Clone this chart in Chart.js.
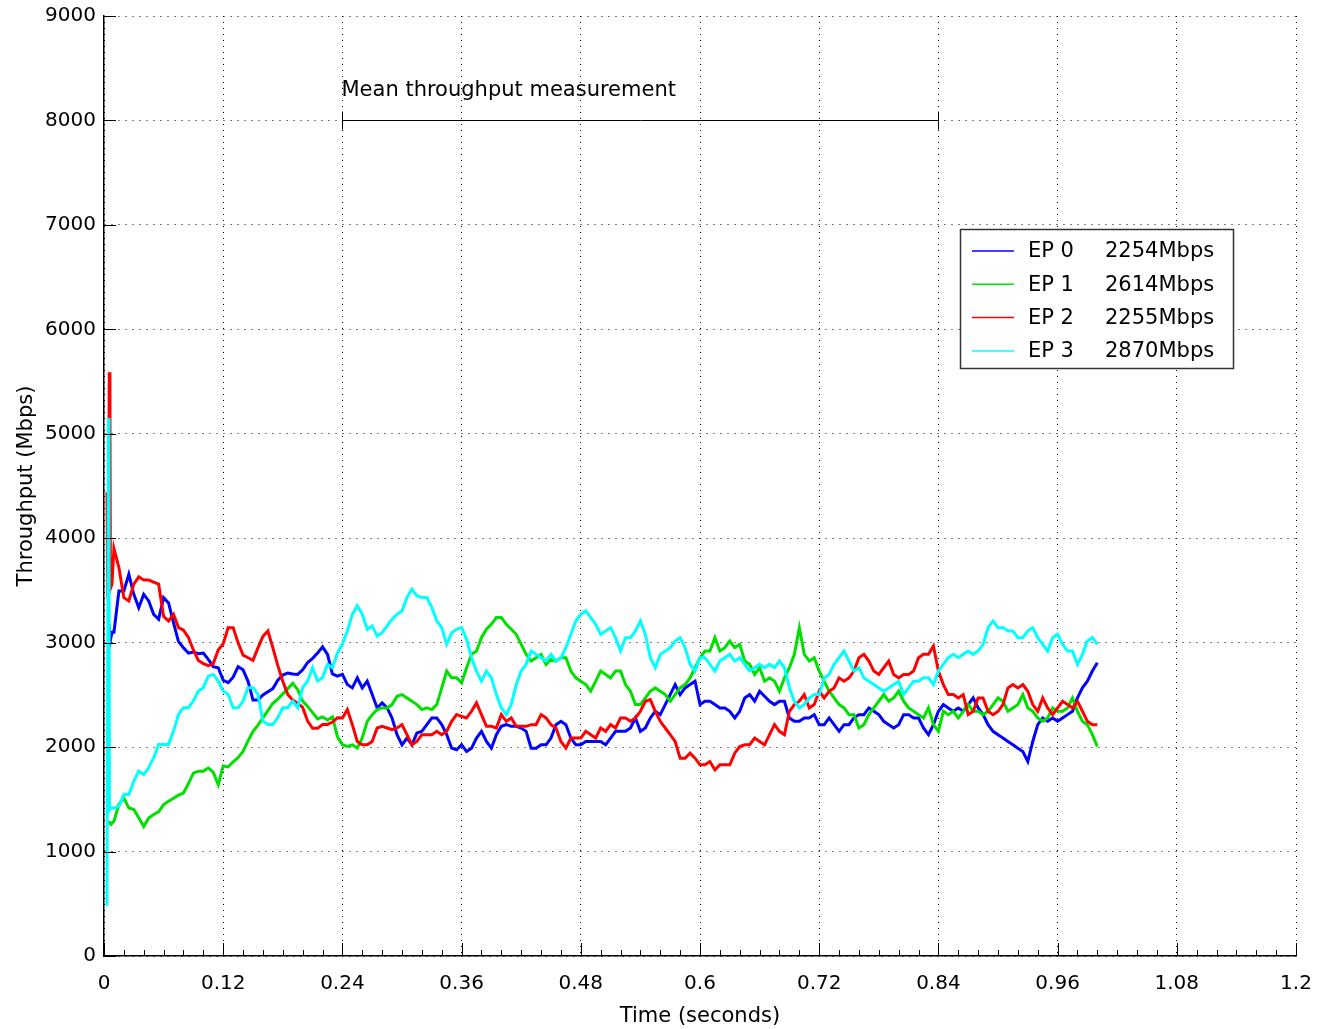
<!DOCTYPE html>
<html>
<head>
<meta charset="utf-8">
<script src="https://cdn.jsdelivr.net/npm/chart.js@4.4.0/dist/chart.umd.min.js"></script>
<style>
  html, body { margin: 0; padding: 0; background: #fff; }
</style>
</head>
<body>
<canvas id="chart" width="1317" height="1029"></canvas>
<script>
const FONT = '"DejaVu Sans", sans-serif';

const seriesNames = ['EP 0', 'EP 1', 'EP 2', 'EP 3'];
const meanMbps = [2254, 2614, 2255, 2870];
const seriesColors = ['#0000ff', '#00e000', '#ff0000', '#00ffff'];

const xTicks = [0, 0.12, 0.24, 0.36, 0.48, 0.6, 0.72, 0.84, 0.96, 1.08, 1.2];
const yTicks = [0, 1000, 2000, 3000, 4000, 5000, 6000, 7000, 8000, 9000];

// measurement window shown at the top
const windowStart = 0.24;
const windowEnd = 0.84;
const windowLevel = 8000;

// samples every 5 ms starting at 10 ms
const T0 = 0.01;
const DT = 0.005;

// start-up transient (first few ms)
const ep0StartT = [0.005, 0.006, 0.008];
const ep0StartV = [3180, 3000, 3100];
const ep1StartT = [0.005, 0.007];
const ep1StartV = [1290, 1260];
const ep2StartT = [0.003, 0.0037, 0.0045, 0.0053, 0.006, 0.0065, 0.008];
const ep2StartV = [4440, 3520, 3550, 5590, 5170, 3520, 3560];
const ep3StartT = [0.003, 0.0045, 0.005, 0.0055, 0.007];
const ep3StartV = [480, 5150, 4300, 1400, 1420];

const ep0 = [
  3100, 3495, 3495, 3655, 3463, 3335, 3463, 3400, 3271, 3224,
  3431, 3380, 3190, 3010, 2952, 2900, 2910, 2895, 2900, 2840,
  2770, 2760, 2640, 2617, 2670, 2770, 2740, 2630, 2450, 2450,
  2500, 2530, 2560, 2640, 2690, 2710, 2700, 2696, 2740, 2810,
  2850, 2900, 2960, 2888, 2700, 2680,
  2696, 2599, 2567, 2663, 2567, 2631, 2503, 2375, 2423, 2375,
  2279, 2119, 2022, 2087, 2022, 2135, 2151, 2215, 2279, 2279,
  2215, 2119, 1990, 1974, 2022, 1958, 1990, 2087, 2151, 2054,
  1990, 2119, 2199, 2215, 2199, 2199, 2183, 2151, 1990,
  1990, 2022, 2022, 2087, 2215, 2247, 2215, 2087, 2022, 2022,
  2054, 2054, 2054, 2054, 2022, 2087, 2151, 2151, 2151, 2183,
  2279, 2151, 2183, 2279, 2343, 2311, 2407, 2503, 2599, 2503,
  2567, 2599, 2631, 2407, 2439, 2439, 2407, 2375, 2375,
  2343, 2279, 2343, 2471, 2503, 2439, 2535, 2487, 2439, 2407,
  2439, 2439, 2279, 2247, 2247, 2279, 2279, 2311, 2215, 2215,
  2279, 2215, 2151, 2215, 2215, 2279, 2311, 2311, 2375, 2343,
  2311, 2247, 2215, 2183, 2215, 2311, 2311, 2279, 2279,
  2183, 2119, 2215, 2343, 2407, 2375, 2343, 2375, 2343, 2407,
  2471, 2375, 2311, 2215, 2151, 2119, 2087, 2054, 2022, 1990,
  1958, 1862, 2054, 2215, 2279, 2247, 2279, 2247, 2279, 2311,
  2343, 2471, 2567, 2631, 2728, 2808
];

const ep1 = [
  1291, 1450, 1514, 1418, 1403, 1323, 1240, 1320, 1355, 1380,
  1450, 1482, 1510, 1540, 1560, 1650, 1750, 1770, 1770, 1800,
  1760, 1640, 1820, 1810, 1860, 1898, 1960, 2060, 2150, 2210,
  2280, 2350, 2420, 2460, 2510, 2560, 2610, 2550, 2440, 2390,
  2330, 2270, 2290, 2260, 2290, 2100,
  2022, 2006, 2022, 1990, 2087, 2247, 2311, 2359, 2375, 2375,
  2407, 2487, 2503, 2471, 2439, 2407, 2359, 2375, 2359, 2407,
  2567, 2728, 2663, 2663, 2615, 2760, 2888, 2920, 3048, 3128,
  3176, 3240, 3240, 3176, 3128, 3080, 2984, 2888, 2824,
  2856, 2888, 2792, 2840, 2824, 2856, 2856, 2728, 2663, 2631,
  2599, 2535, 2631, 2728, 2696, 2663, 2728, 2728, 2599, 2535,
  2407, 2407, 2471, 2535, 2567, 2535, 2503, 2439, 2503, 2567,
  2599, 2663, 2760, 2856, 2920, 2920, 3048, 2920, 2952,
  3016, 2952, 2984, 2824, 2792, 2696, 2760, 2631, 2663, 2631,
  2535, 2663, 2760, 2888, 3144, 2888, 2824, 2856, 2728, 2631,
  2535, 2471, 2407, 2375, 2311, 2311, 2183, 2215, 2311, 2375,
  2439, 2503, 2439, 2471, 2535, 2439, 2375, 2343, 2311,
  2279, 2375, 2215, 2151, 2343, 2311, 2343, 2279, 2343, 2407,
  2343, 2343, 2311, 2343, 2407, 2471, 2439, 2343, 2375, 2407,
  2503, 2375, 2343, 2279, 2247, 2279, 2375, 2343, 2343, 2375,
  2471, 2343, 2247, 2215, 2119, 2006
];

const ep2 = [
  3900, 3719, 3431, 3400, 3560, 3630, 3600, 3600, 3580, 3560,
  3250, 3208, 3271, 3144, 3120, 3050, 2930, 2830, 2800, 2780,
  2800, 2930, 2990, 3144, 3144, 3000, 2880, 2856, 2830, 2950,
  3060, 3112, 2950, 2780, 2630, 2505, 2450, 2420, 2380, 2249,
  2180, 2180, 2217, 2217, 2240, 2280,
  2279, 2359, 2215, 2054, 2022, 2022, 2054, 2183, 2199, 2183,
  2167, 2183, 2215, 2119, 2022, 2054, 2119, 2119, 2119, 2151,
  2119, 2151, 2247, 2311, 2295, 2279, 2343, 2423, 2311, 2199,
  2199, 2183, 2311, 2247, 2279, 2199, 2199, 2199, 2215,
  2215, 2311, 2279, 2215, 2183, 2054, 1990, 2087, 2087, 2087,
  2151, 2119, 2087, 2183, 2151, 2215, 2183, 2279, 2279, 2247,
  2279, 2343, 2439, 2455, 2343, 2247, 2183, 2119, 2054, 1894,
  1894, 1942, 1894, 1830, 1830, 1862, 1782, 1830, 1830,
  1830, 1942, 2006, 2022, 2022, 2087, 2054, 2022, 2119, 2215,
  2151, 2119, 2343, 2407, 2439, 2503, 2375, 2407, 2535, 2471,
  2535, 2567, 2663, 2631, 2663, 2728, 2856, 2888, 2824, 2728,
  2696, 2760, 2824, 2696, 2663, 2696, 2696, 2728, 2856,
  2888, 2888, 2968, 2728, 2599, 2503, 2503, 2471, 2503, 2311,
  2343, 2471, 2471, 2343, 2311, 2343, 2407, 2567, 2599, 2567,
  2599, 2535, 2407, 2343, 2471, 2375, 2311, 2375, 2439, 2407,
  2375, 2439, 2343, 2247, 2215, 2215
];

const ep3 = [
  1418, 1434, 1546, 1546, 1674, 1770, 1738, 1802, 1898, 2026,
  2026, 2026, 2153, 2313, 2377, 2377, 2441, 2537, 2569, 2680,
  2696, 2633, 2537, 2505, 2377, 2377, 2441, 2569, 2569, 2505,
  2249, 2217, 2217, 2281, 2377, 2377, 2441, 2377, 2569, 2633,
  2760, 2633, 2665, 2792, 2760, 2900,
  2984, 3112, 3272, 3353, 3272, 3128, 3160, 3064, 3096, 3160,
  3224, 3272, 3304, 3433, 3513, 3449, 3433, 3433, 3337, 3208,
  3144, 2984, 3096, 3128, 3144, 3032, 2856, 2728, 2631, 2728,
  2663, 2503, 2375, 2311, 2407, 2599, 2728, 2792, 2920,
  2888, 2856, 2824, 2888, 2824, 2856, 2952, 3080, 3208, 3272,
  3304, 3240, 3176, 3080, 3112, 3144, 3048, 2920, 3048, 3048,
  3112, 3208, 3080, 2856, 2760, 2888, 2920, 2952, 3016, 3048,
  2952, 2792, 2728, 2856, 2856, 2792, 2728, 2824, 2856,
  2888, 2824, 2856, 2792, 2728, 2760, 2792, 2760, 2792, 2760,
  2824, 2760, 2567, 2439, 2375, 2407, 2471, 2503, 2503, 2663,
  2696, 2792, 2856, 2920, 2824, 2728, 2760, 2663, 2631, 2599,
  2567, 2535, 2567, 2599, 2631, 2503, 2567, 2631, 2631,
  2663, 2663, 2599, 2728, 2792, 2856, 2888, 2856, 2888, 2920,
  2888, 2920, 2984, 3144, 3208, 3144, 3144, 3112, 3112, 3048,
  3048, 3112, 3144, 3048, 2984, 2920, 3048, 3080, 2984, 2920,
  2920, 2792, 2888, 3016, 3048, 2984
];

function toPoints(startT, startV, vals) {
  const pts = startT.map((t, i) => ({ x: t, y: startV[i] }));
  vals.forEach((v, i) => pts.push({ x: +(T0 + DT * i).toFixed(4), y: v }));
  return pts;
}

const allSeries = [
  toPoints(ep0StartT, ep0StartV, ep0),
  toPoints(ep1StartT, ep1StartV, ep1),
  toPoints(ep2StartT, ep2StartV, ep2),
  toPoints(ep3StartT, ep3StartV, ep3)
];

// inward ticks, measurement bar and the boxed legend
const overlay = {
  id: 'overlay',
  afterDraw(chart) {
    const { ctx, scales: { x, y } } = chart;
    ctx.save();
    ctx.strokeStyle = '#000';
    ctx.lineWidth = 1;
    ctx.beginPath();
    for (let i = 0; i <= 60; i++) {
      const px = Math.round(x.getPixelForValue(i * 0.02)) + 0.5;
      const len = i % 6 === 0 ? 13 : 6;
      ctx.moveTo(px, y.bottom);
      ctx.lineTo(px, y.bottom - len);
    }
    yTicks.forEach(v => {
      const py = Math.round(y.getPixelForValue(v)) + 0.5;
      ctx.moveTo(x.left, py);
      ctx.lineTo(x.left + 12, py);
    });
    ctx.stroke();

    // measurement window
    const x1 = Math.round(x.getPixelForValue(windowStart)) + 0.5;
    const x2 = Math.round(x.getPixelForValue(windowEnd)) + 0.5;
    const wy = Math.round(y.getPixelForValue(windowLevel)) + 0.5;
    ctx.beginPath();
    ctx.moveTo(x1, wy); ctx.lineTo(x2, wy);
    ctx.moveTo(x1, wy - 9); ctx.lineTo(x1, wy + 9);
    ctx.moveTo(x2, wy - 9); ctx.lineTo(x2, wy + 9);
    ctx.stroke();
    ctx.fillStyle = '#000';
    ctx.font = '21px ' + FONT;
    ctx.textAlign = 'left';
    ctx.textBaseline = 'alphabetic';
    ctx.fillText('Mean throughput measurement', x1 - 1, wy - 25);

    // legend box
    const bx = 960.5, by = 229.5, bw = 273, bh = 139;
    ctx.fillStyle = '#fff';
    ctx.fillRect(bx, by, bw, bh);
    ctx.strokeStyle = '#333';
    ctx.lineWidth = 1.5;
    ctx.strokeRect(bx, by, bw, bh);
    ctx.textBaseline = 'middle';
    seriesNames.forEach((name, i) => {
      const ry = 251 + i * 33.3;
      ctx.strokeStyle = seriesColors[i];
      ctx.lineWidth = 1.5;
      ctx.beginPath();
      ctx.moveTo(972, ry);
      ctx.lineTo(1014, ry);
      ctx.stroke();
      ctx.fillStyle = '#000';
      ctx.fillText(name, 1028, ry + 1);
      ctx.fillText(meanMbps[i] + 'Mbps', 1105, ry + 1);
    });
    ctx.restore();
  }
};

new Chart(document.getElementById('chart').getContext('2d'), {
  type: 'line',
  data: {
    datasets: allSeries.map((pts, i) => ({
      label: seriesNames[i],
      data: pts,
      borderColor: seriesColors[i],
      borderWidth: 3,
      pointRadius: 0,
      tension: 0,
      fill: false,
      order: 3 - i
    }))
  },
  options: {
    responsive: false,
    animation: false,
    events: [],
    layout: { padding: { top: 16, right: 21, bottom: 0, left: 0 } },
    scales: {
      x: {
        type: 'linear',
        min: 0,
        max: 1.2,
        afterBuildTicks: s => { s.ticks = xTicks.map(v => ({ value: v })); },
        afterFit: s => {
          s.height = 73;
          s.paddingLeft = 0;
          s.paddingRight = 0;
        },
        grid: { color: '#000', lineWidth: 1, drawTicks: false },
        border: { display: true, color: '#000', width: 1.5, dash: [1, 5] },
        ticks: {
          color: '#000',
          font: { family: FONT, size: 20 },
          padding: 16,
          maxRotation: 0,
          autoSkip: false,
          callback: v => String(parseFloat(v.toFixed(2)))
        },
        title: {
          display: true,
          text: 'Time (seconds)',
          color: '#000',
          font: { family: FONT, size: 21 },
          padding: { top: 0, bottom: 0 }
        }
      },
      y: {
        type: 'linear',
        min: 0,
        max: 9000,
        afterBuildTicks: s => { s.ticks = yTicks.map(v => ({ value: v })); },
        afterFit: s => {
          s.width = 104;
          s.paddingTop = 0;
          s.paddingBottom = 0;
        },
        grid: { color: '#000', lineWidth: 1, drawTicks: false },
        border: { display: true, color: '#000', width: 1.5, dash: [1, 6] },
        ticks: {
          color: '#000',
          font: { family: FONT, size: 20 },
          padding: 8,
          callback: v => String(v)
        },
        title: {
          display: true,
          text: 'Throughput (Mbps)',
          color: '#000',
          font: { family: FONT, size: 21 },
          padding: { top: 14, bottom: 0 }
        }
      }
    },
    plugins: {
      legend: { display: false },
      tooltip: { enabled: false }
    }
  },
  plugins: [overlay]
});
</script>
</body>
</html>
